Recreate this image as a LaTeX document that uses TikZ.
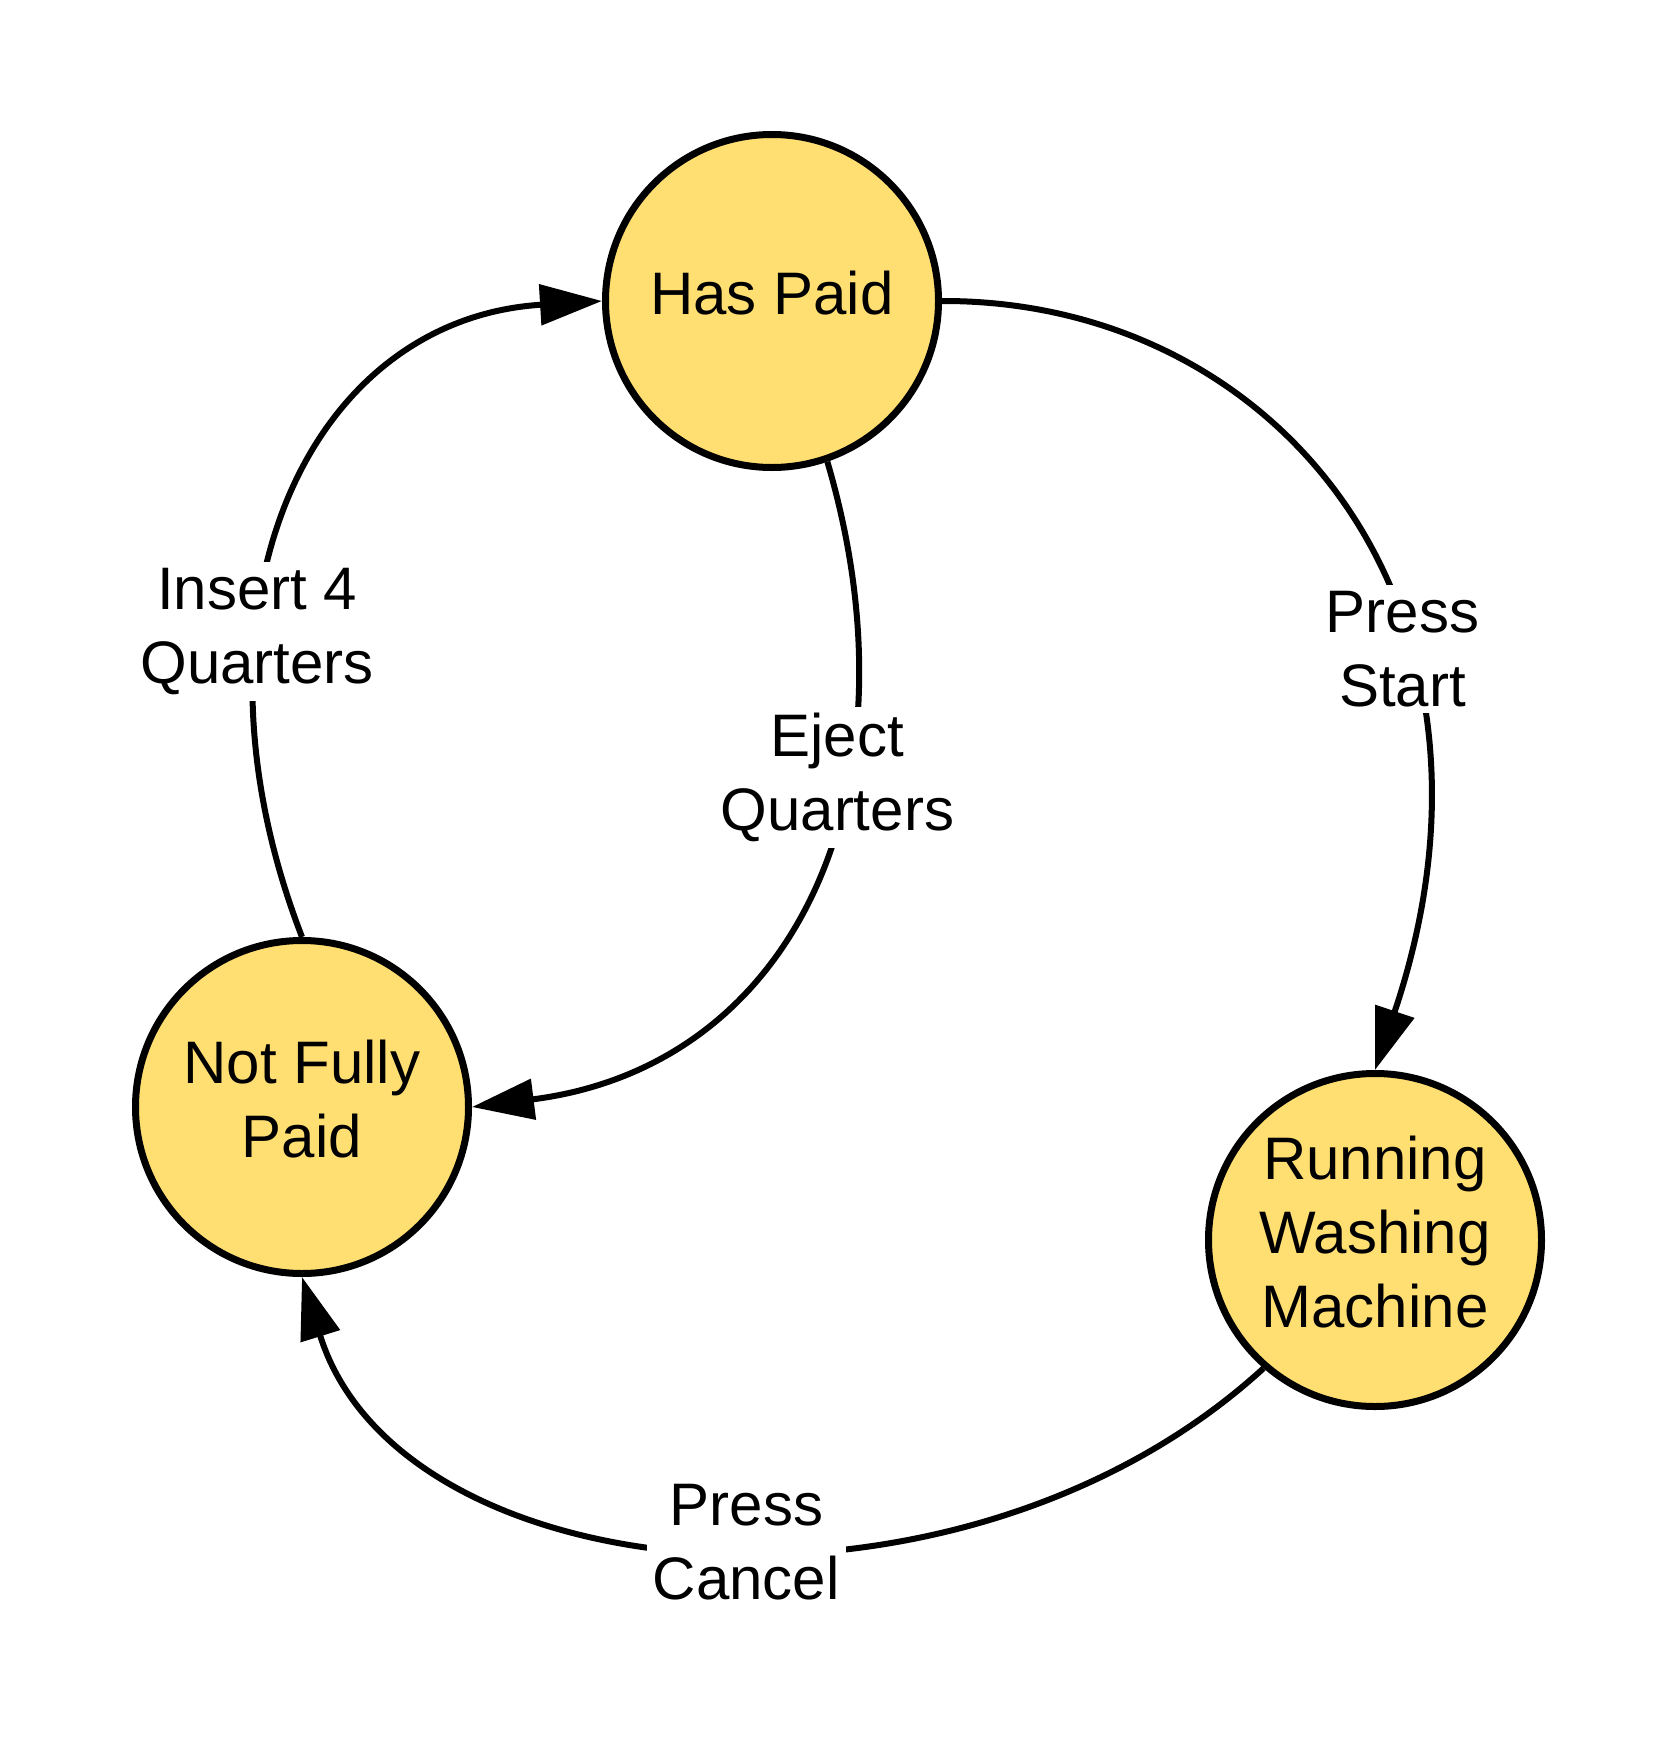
\documentclass[tikz,border=0pt]{standalone}
\usepackage{fontspec}
\setmainfont{Liberation Sans}
\usetikzlibrary{arrows.meta}
\definecolor{stfill}{HTML}{FFDF72}
\tikzset{
 state/.style={circle, draw=black, line width=7pt, fill=stfill, minimum size=333pt, inner sep=0pt, text depth=16pt, align=center, font=\fontsize{60}{74}\selectfont},
 edge/.style={line width=6pt, -{Triangle[length=62pt,width=40pt]}},
 lbl/.style={fill=white, align=center, inner sep=6pt, font=\fontsize{60}{74}\selectfont}
}
\begin{document}
\begin{tikzpicture}[x=1pt,y=-1pt]
\fill[white] (0,0) rectangle (1677,1758);
\useasboundingbox (0,0) rectangle (1677,1758);
\node[state] (hp) at (772,301) {Has Paid};
\node[state] (nfp) at (302,1107) {Not Fully\\Paid};
\node[state] (rwm) at (1375,1240) {Running\\Washing\\Machine};
\draw[edge] (nfp.north) .. controls (174,606) and (308,319) .. node[lbl,pos=0.33]{Insert 4\\Quarters} (hp.west);
\draw[edge] (hp.-71) .. controls (923,786) and (797,1066) .. node[lbl,pos=0.35,xshift=-10pt]{Eject\\Quarters} (nfp.east);
\draw[edge] (hp.east) .. controls (1280,300) and (1530,610) .. node[lbl,pos=0.65]{Press\\Start} (rwm.north);
\draw[edge] (rwm.229) .. controls (960,1646) and (401,1596) .. node[lbl,pos=0.465,yshift=7pt]{Press\\Cancel} (nfp.south);
\end{tikzpicture}
\end{document}
